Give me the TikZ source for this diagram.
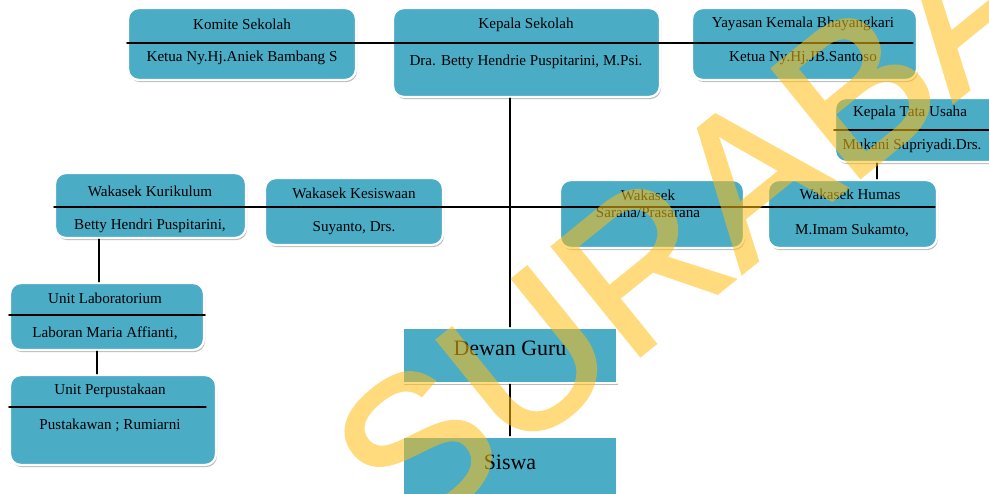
\documentclass[tikz,border=0pt]{standalone}
\usepackage{fontspec}
\setmainfont{Liberation Serif}
\newfontfamily\wmfont[FakeBold = 1.4]{Liberation Sans}
\usetikzlibrary{fit, shadows}
\definecolor{boxblue}{RGB}{75,172,198}
\definecolor{wmyellow}{RGB}{255,190,20}

\begin{document}
\begin{tikzpicture}[x = 0.02cm, y = -0.02cm, line cap = round, line join = round,
  orgbox/.style = {draw = white, line width = 1.3pt, fill = boxblue, inner sep = 0pt,
    rounded corners = 0.22cm,
    drop shadow = {shadow xshift = 0.6pt, shadow yshift = -1.2pt, fill = black!45, opacity = 0.6}},
  flatbox/.style = {orgbox, rounded corners = 0pt},
  lbl/.style = {font = \fontsize{8.6}{10}\selectfont, inner sep = 0pt},
  biglbl/.style = {font = \fontsize{12.5}{14}\selectfont, inner sep = 0pt},
  link/.style = {line width = 0.6pt}]
  \useasboundingbox (0, 0) rectangle (989, 493);

  % top row
  \node[orgbox, fit = {(128, 8) (356, 80)}] (komite) {};
  \node[orgbox, fit = {(393, 8) (660, 97)}] (kepala) {};
  \node[orgbox, fit = {(692, 8) (917, 80)}] (yayasan) {};
  \node[orgbox, fit = {(835, 98) (1010, 162)}] (tatausaha) {};

  \node[lbl] (komite-t) at (242, 24) {Komite Sekolah};
  \node[lbl] (komite-n) at (242, 58) {Ketua Ny.Hj.Aniek Bambang S};
  \node[lbl] (kepala-t) at (526, 25) {Kepala Sekolah};
  \node[lbl] (kepala-n) at (526, 62) {Dra. Betty Hendrie Puspitarini, M.Psi.};
  \node[lbl] (yayasan-t) at (803, 24) {Yayasan Kemala  Bhayangkari};
  \node[lbl] (yayasan-n) at (803, 58) {Ketua Ny.Hj.JB.Santoso};
  \node[lbl] (tatausaha-t) at (910, 113) {Kepala Tata Usaha};
  \node[lbl] (tatausaha-n) at (912, 146) {Mukani Supriyadi.Drs.};

  % wakasek row
  \node[orgbox, fit = {(55, 173) (246, 238)}] (kurikulum) {};
  \node[orgbox, fit = {(265, 178) (443, 245)}] (kesiswaan) {};
  \node[orgbox, fit = {(560, 180) (744, 248)}] (sarana) {};
  \node[orgbox, fit = {(768, 180) (937, 248)}] (humas) {};

  \node[lbl] (kurikulum-t) at (150, 191) {Wakasek Kurikulum};
  \node[lbl] (kurikulum-n) at (150, 226) {Betty Hendri Puspitarini,};
  \node[lbl] (kesiswaan-t) at (354, 193) {Wakasek Kesiswaan};
  \node[lbl] (kesiswaan-n) at (354, 228) {Suyanto, Drs.};
  \node[lbl] (sarana-t) at (648, 195) {Wakasek};
  \node[lbl] (sarana-n) at (648, 213) {Sarana/Prasarana};
  \node[lbl] (humas-t) at (850, 194) {Wakasek Humas};
  \node[lbl] (humas-n) at (852, 230) {M.Imam Sukamto,};

  % units
  \node[orgbox, fit = {(10, 283) (204, 350)}] (lab) {};
  \node[orgbox, fit = {(10, 375) (216, 465)}] (perpus) {};

  \node[lbl] (lab-t) at (105, 298) {Unit Laboratorium};
  \node[lbl] (lab-n) at (105, 333) {Laboran Maria Affianti,};
  \node[lbl] (perpus-t) at (110, 391) {Unit Perpustakaan};
  \node[lbl] (perpus-n) at (110, 425) {Pustakawan ; Rumiarni};

  % guru, siswa
  \node[flatbox, fit = {(403, 328) (617, 383)}] (dewan) {};
  \node[flatbox, fit = {(403, 437) (617, 500)}] (siswa) {};
  \node[biglbl] (dewan-t) at (510, 348) {Dewan Guru};
  \node[biglbl] (siswa-t) at (510, 462) {Siswa};

  % lines
  \coordinate (top-end) at (913, 43);
  \coordinate (mid-end) at (935, 207);
  \coordinate (lab-x) at (99, 0);
  \coordinate (perpus-x) at (97, 0);
  \coordinate (tu-x) at (877, 0);
  \draw[link] (komite.west |- top-end) -- (top-end);
  \draw[link] (kurikulum.west |- mid-end) -- (mid-end);
  \draw[link] (tatausaha.west |- 0, 130) -- (tatausaha.east |- 0, 130);
  \draw[link] (lab.west |- 0, 315) -- (lab.east |- 0, 315);
  \draw[link] (perpus.west |- 0, 407) -- (206, 407);
  \draw[link] (kepala.south -| dewan.north) -- (dewan.north);
  \draw[link] (dewan.south) -- (siswa.north);
  \draw[link] (kurikulum.south -| lab-x) -- (lab.north -| lab-x);
  \draw[link] (lab.south -| perpus-x) -- (perpus.north -| perpus-x);
  \draw[link] (tatausaha.south -| tu-x) -- (humas.north -| tu-x);

  % watermark
  \begin{scope}[transparency group, opacity = 0.55]
    \node[text = wmyellow, rotate = 39, inner sep = 0pt,
      font = \wmfont\fontsize{116}{116}\selectfont] (mark) at (783, 150) {SURABAYA};
  \end{scope}
\end{tikzpicture}
\end{document}
